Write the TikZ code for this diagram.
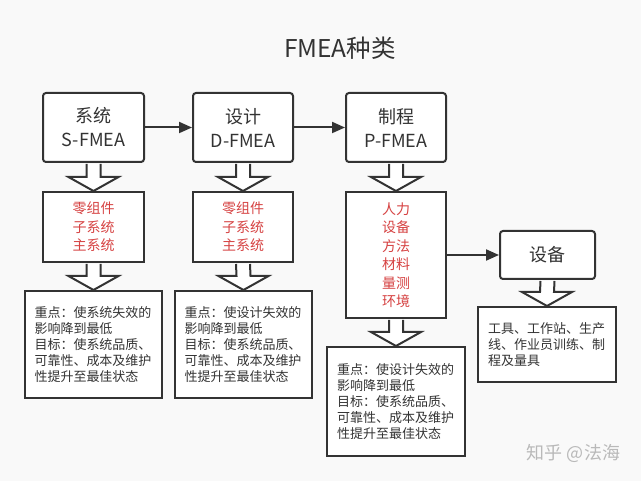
\documentclass[tikz,border=0pt]{standalone}
\usepackage{fontspec}
\setmainfont{Noto Sans CJK SC}
\usetikzlibrary{arrows.meta, calc}
\definecolor{bg}{RGB}{249,249,249}
\definecolor{ink}{RGB}{51,51,51}
\definecolor{redtxt}{RGB}{214,66,66}

\begin{document}
\begin{tikzpicture}[x=1pt,y=-1pt,
  box/.style={draw=ink, line width=2pt, fill=white, rounded corners=3pt, text=ink, align=center, font=\fontsize{18}{24}\selectfont},
  redbox/.style={draw=ink, line width=2pt, fill=white, text=redtxt, align=center, font=\fontsize{14}{18.5}\selectfont},
  txtbox/.style={draw=ink, line width=2pt, fill=white, text=ink, align=left, text width=118pt, font=\fontsize{13}{16}\selectfont},
  link/.style={draw=ink, line width=2pt, -{Triangle[length=13pt,width=11pt]}},
  fat/.style={draw=ink, line width=2pt, fill=white, line join=miter}]
\fill[bg] (0,0) rectangle (641,481);
\node[text=ink, font=\fontsize{24.5}{28}\selectfont] (title) at (340,48.5) {FMEA种类};
\node[box, minimum width=101pt, minimum height=69pt] (s) at (93.5,127.5) {系统\\S-FMEA};
\node[box, minimum width=100pt, minimum height=69pt] (d) at (243,127.5) {设计\\D-FMEA};
\node[box, minimum width=100pt, minimum height=69pt] (p) at (396,127.5) {制程\\P-FMEA};
\node[redbox, minimum width=101pt, minimum height=70pt] (sr) at (93.5,227) {零组件\\子系统\\主系统};
\node[redbox, minimum width=100pt, minimum height=70pt] (dr) at (243,227) {零组件\\子系统\\主系统};
\node[redbox, minimum width=100pt, minimum height=126pt] (pr) at (396,255) {人力\\设备\\方法\\材料\\量测\\环境};
\node[box, minimum width=95pt, minimum height=48pt] (eq) at (547.5,255) {设备};
\node[txtbox, minimum width=137pt, minimum height=107pt] (st) at (93.5,344.5) {重点：使系统失效的\\影响降到最低\\目标：使系统品质、\\可靠性、成本及维护\\性提升至最佳状态};
\node[txtbox, minimum width=137pt, minimum height=107pt] (dt) at (243.5,344.5) {重点：使设计失效的\\影响降到最低\\目标：使系统品质、\\可靠性、成本及维护\\性提升至最佳状态};
\node[txtbox, minimum width=138pt, minimum height=109pt] (pt) at (396,401.5) {重点：使设计失效的\\影响降到最低\\目标：使系统品质、\\可靠性、成本及维护\\性提升至最佳状态};
\node[txtbox, minimum width=138pt, minimum height=75pt] (et) at (547,344.5) {工具、工作站、生产\\线、作业员训练、制\\程及量具};
\node[text=gray!55, font=\fontsize{18}{20}\selectfont] (wm) at (573.5,453) {知乎 @法海};
\draw[link] (s) -- (d);
\draw[link] (d) -- (p);
\draw[link] (pr) -- (eq);
\foreach \a/\b in {s/sr, d/dr, p/pr, sr/st, dr/dt, pr/pt, eq/et}
  \draw[fat] ($(\a.south)+(-7,1)$) -- ($(\b.north)+(-7,-14)$) -- ($(\b.north)+(-25,-14)$) -- (\b.north)
    -- ($(\b.north)+(25,-14)$) -- ($(\b.north)+(7,-14)$) -- ($(\a.south)+(7,1)$);
\end{tikzpicture}
\end{document}
